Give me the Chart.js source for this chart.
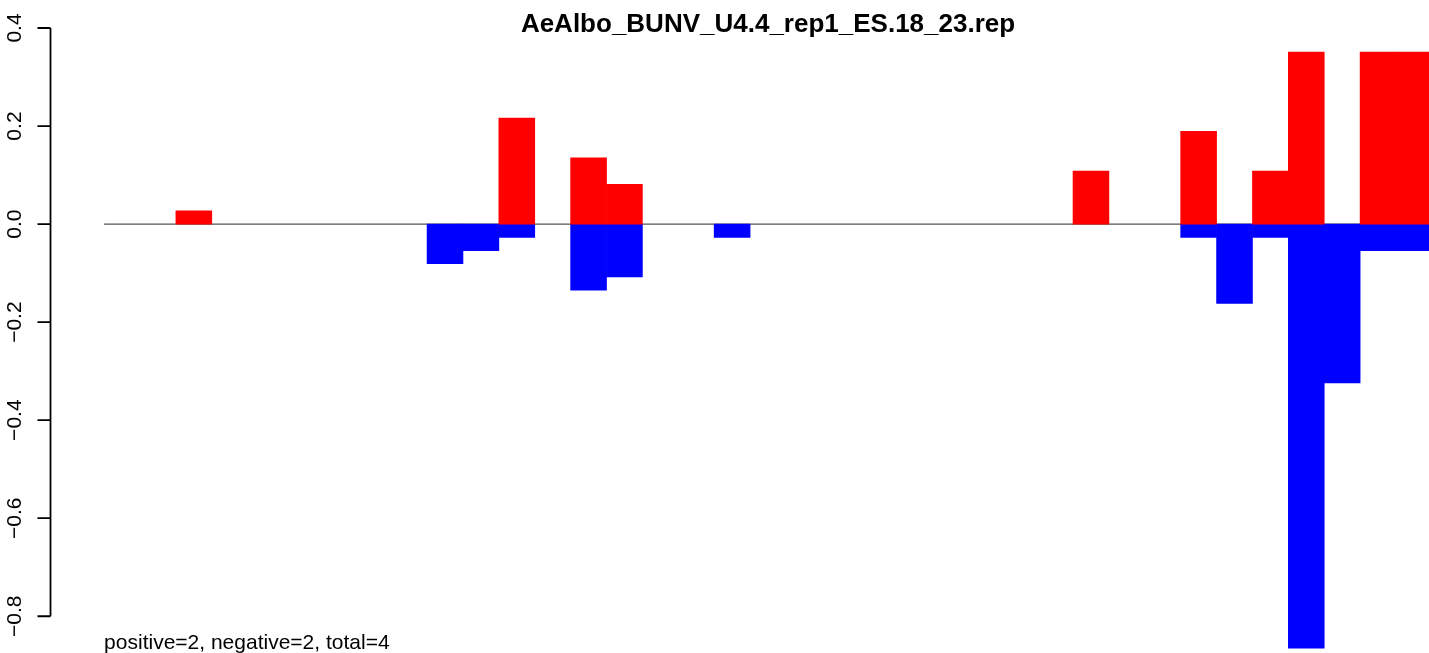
<!DOCTYPE html>
<html>
<head>
<meta charset="utf-8">
<script src="https://cdn.jsdelivr.net/npm/chart.js@4.4.0/dist/chart.umd.min.js"></script>
<style>
  html, body { margin: 0; padding: 0; background: #fff; overflow: hidden; }
  #wrap { width: 1429px; height: 653px; overflow: hidden; position: relative; }
  canvas { display: block; }
</style>
</head>
<body>
<div id="wrap"><canvas id="chart" width="1485" height="653"></canvas></div>
<script>
// Dados (37 janelas, a ultima cortada na borda direita)
const positive = [0, 0, 0.027, 0, 0, 0, 0, 0, 0, 0, 0, 0.216, 0, 0.135, 0.081, 0, 0, 0, 0,
  0, 0, 0, 0, 0, 0, 0, 0, 0.108, 0, 0, 0.189, 0, 0.108, 0.351, 0, 0.351, 0.351];
const negative = [0, 0, 0, 0, 0, 0, 0, 0, 0, -0.081, -0.054, -0.027, 0, -0.135, -0.108, 0, 0, -0.027, 0,
  0, 0, 0, 0, 0, 0, 0, 0, 0, 0, 0, -0.027, -0.162, -0.027, -0.865, -0.324, -0.054, -0.054];
const yTicks = [0.4, 0.2, 0.0, -0.2, -0.4, -0.6, -0.8];
const yTickLabels = ['0.4', '0.2', '0.0', '\u22120.2', '\u22120.4', '\u22120.6', '\u22120.8'];
const titleText = 'AeAlbo_BUNV_U4.4_rep1_ES.18_23.rep';
const footText = 'positive=2, negative=2, total=4';

const FONT = '"Liberation Sans", Arial, Helvetica, sans-serif';

// barras vazias (0) ficam null para nao desenhar um fio no zero
const toPoints = arr => arr.map((v, i) => ({ x: i + 0.5, y: v === 0 ? null : v }));

// eixo no estilo R + linha do zero + textos
const rStyle = {
  id: 'rStyle',
  beforeDatasetsDraw(chart) {
    const { ctx, scales: { x, y } } = chart;
    const y0 = y.getPixelForValue(0);
    ctx.save();
    ctx.strokeStyle = '#555';
    ctx.lineWidth = 1.2;
    ctx.beginPath();
    ctx.moveTo(x.getPixelForValue(0), y0);
    ctx.lineTo(x.getPixelForValue(positive.length), y0);
    ctx.stroke();
    ctx.restore();
  },
  afterDraw(chart) {
    const { ctx, chartArea, scales: { x, y } } = chart;
    const ax = chartArea.left - 0.5;
    ctx.save();
    ctx.strokeStyle = '#000';
    ctx.lineWidth = 1.8;
    ctx.beginPath();
    ctx.moveTo(ax, y.getPixelForValue(yTicks[0]));
    ctx.lineTo(ax, y.getPixelForValue(yTicks[yTicks.length - 1]));
    yTicks.forEach(v => {
      const ty = y.getPixelForValue(v);
      ctx.moveTo(ax, ty);
      ctx.lineTo(ax - 13, ty);
    });
    ctx.stroke();

    ctx.fillStyle = '#000';
    ctx.font = '21px ' + FONT;
    ctx.textAlign = 'center';
    ctx.textBaseline = 'alphabetic';
    yTicks.forEach((v, i) => {
      ctx.save();
      ctx.translate(20.5, y.getPixelForValue(v));
      ctx.rotate(-Math.PI / 2);
      ctx.fillText(yTickLabels[i], 0, 0);
      ctx.restore();
    });

    // titulo centrado na regiao do grafico
    ctx.font = 'bold 26px ' + FONT;
    ctx.fillText(titleText, (chartArea.left + chartArea.right) / 2, 31.5);

    // rodape
    ctx.font = '21px ' + FONT;
    ctx.textAlign = 'left';
    ctx.fillText(footText, x.getPixelForValue(0), 649);
    ctx.restore();
  }
};

new Chart(document.getElementById('chart').getContext('2d'), {
  type: 'bar',
  data: {
    datasets: [{
      label: 'positive',
      data: toPoints(positive),
      backgroundColor: '#FF0000',
      borderWidth: 0,
      categoryPercentage: 1,
      barPercentage: 1
    }, {
      label: 'negative',
      data: toPoints(negative),
      backgroundColor: '#0000FF',
      borderWidth: 0,
      categoryPercentage: 1,
      barPercentage: 1
    }]
  },
  options: {
    responsive: false,
    animation: false,
    devicePixelRatio: 1,
    layout: { padding: { left: 51, top: 28, right: 0, bottom: 0 } },
    scales: {
      x: {
        type: 'linear',
        min: -1.48,
        max: 38.48,
        offset: false,
        stacked: true,
        display: false,
        ticks: { includeBounds: false }
      },
      y: {
        type: 'linear',
        min: -0.875,
        max: 0.4,
        stacked: true,
        display: false
      }
    },
    plugins: {
      legend: { display: false },
      tooltip: { enabled: false },
      title: { display: false }
    }
  },
  plugins: [rStyle]
});
</script>
</body>
</html>
